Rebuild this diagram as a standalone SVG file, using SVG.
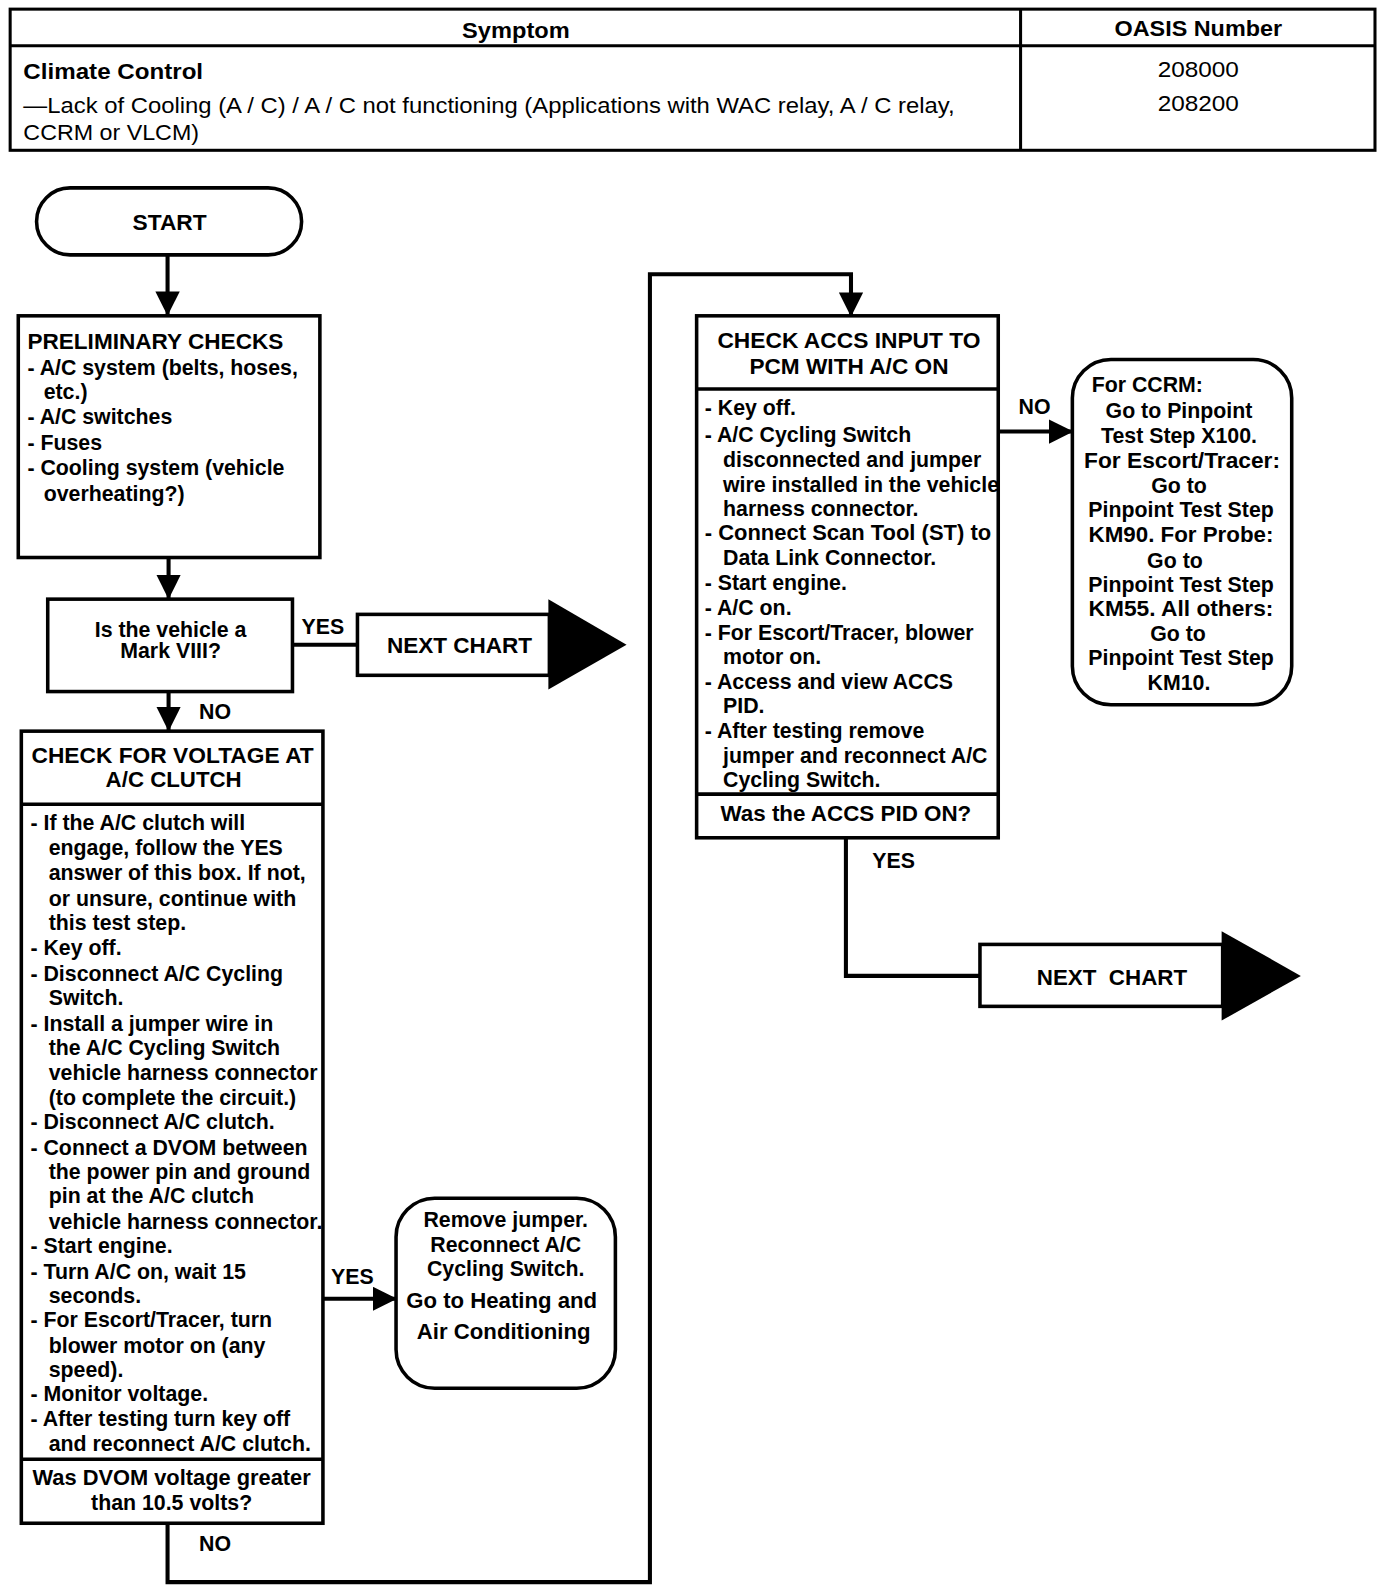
<svg xmlns="http://www.w3.org/2000/svg" width="1392" height="1592" viewBox="0 0 1392 1592">
<defs>
<style>
text{font-family:"Liberation Sans",Arial,sans-serif;font-weight:bold;font-size:21px;fill:#000}
.c{text-anchor:middle}
.box{fill:#fff;stroke:#000;stroke-width:3.5}
.ln{fill:none;stroke:#000;stroke-width:4}
.t{font-size:22px}
.r{font-weight:normal}
</style>
<marker id="ah" markerUnits="userSpaceOnUse" markerWidth="26" markerHeight="24" refX="24" refY="12" orient="auto">
<path d="M0,0 L24,12 L0,24 Z" fill="#000"/>
</marker>
</defs>
<rect width="1392" height="1592" fill="#fff"/>
<g transform="scale(1.0155)">

<g id="table">
<rect x="10" y="9" width="1344" height="139" fill="none" stroke="#000" stroke-width="3"/>
<line x1="10" y1="45" x2="1354" y2="45" stroke="#000" stroke-width="3"/>
<line x1="1005" y1="9" x2="1005" y2="148" stroke="#000" stroke-width="3"/>
<text class="c t" x="508" y="37" textLength="106" lengthAdjust="spacingAndGlyphs">Symptom</text>
<text class="c t" x="1180" y="35" textLength="165" lengthAdjust="spacingAndGlyphs">OASIS Number</text>
<text class="t" x="23" y="78" textLength="177" lengthAdjust="spacingAndGlyphs">Climate Control</text>
<text class="t r" x="23" y="111" textLength="917" lengthAdjust="spacingAndGlyphs">—Lack of Cooling (A / C) / A / C not functioning (Applications with WAC relay, A / C relay,</text>
<text class="t r" x="23" y="138" textLength="173" lengthAdjust="spacingAndGlyphs">CCRM or VLCM)</text>
<text class="c t r" x="1180" y="76" textLength="80" lengthAdjust="spacingAndGlyphs">208000</text>
<text class="c t r" x="1180" y="109" textLength="80" lengthAdjust="spacingAndGlyphs">208200</text>
</g>

<g id="connectors">
<line class="ln" x1="165" y1="251" x2="165" y2="311" marker-end="url(#ah)"/>
<line class="ln" x1="166" y1="549" x2="166" y2="590" marker-end="url(#ah)"/>
<line class="ln" x1="288" y1="635" x2="352" y2="635"/>
<line class="ln" x1="166" y1="681" x2="166" y2="720" marker-end="url(#ah)"/>
<line class="ln" x1="318" y1="1279" x2="391" y2="1279" marker-end="url(#ah)"/>
<polyline class="ln" points="165,1500 165,1558 640,1558 640,270 838,270 838,312" marker-end="url(#ah)"/>
<line class="ln" x1="983" y1="425" x2="1057" y2="425" marker-end="url(#ah)"/>
<polyline class="ln" points="833,825 833,961 965,961"/>
<text x="297" y="624">YES</text>
<text x="196" y="708">NO</text>
<text x="326" y="1264">YES</text>
<text x="196" y="1527">NO</text>
<text x="1003" y="408">NO</text>
<text x="859" y="855">YES</text>
</g>

<g id="start">
<rect class="box" x="36" y="185" width="261" height="66" rx="33"/>
<text class="c" x="167" y="226" textLength="73" lengthAdjust="spacingAndGlyphs">START</text>
</g>

<g id="prelim">
<rect class="box" x="18" y="311" width="297" height="238"/>
<text x="27" y="344" textLength="252" lengthAdjust="spacingAndGlyphs">PRELIMINARY CHECKS</text>
<text x="27" y="369">- A/C system (belts, hoses,</text>
<text x="43" y="393">etc.)</text>
<text x="27" y="418">- A/C switches</text>
<text x="27" y="443">- Fuses</text>
<text x="27" y="468">- Cooling system (vehicle</text>
<text x="43" y="493">overheating?)</text>
</g>

<g id="decision1">
<rect class="box" x="47" y="590" width="241" height="91"/>
<text class="c" x="168" y="627">Is the vehicle a</text>
<text class="c" x="168" y="648">Mark VIII?</text>
</g>

<g id="next1">
<rect class="box" x="352" y="605" width="189" height="60"/>
<path d="M540,590 L617,635 L540,679 Z" fill="#000"/>
<text x="381" y="643" textLength="143" lengthAdjust="spacingAndGlyphs">NEXT CHART</text>
</g>

<g id="voltage">
<rect class="box" x="21" y="720" width="297" height="780"/>
<line x1="21" y1="792" x2="318" y2="792" stroke="#000" stroke-width="3.5"/>
<line x1="21" y1="1437" x2="318" y2="1437" stroke="#000" stroke-width="3.5"/>
<text class="c" x="170" y="751" textLength="278" lengthAdjust="spacingAndGlyphs">CHECK FOR VOLTAGE AT</text>
<text class="c" x="171" y="775" textLength="134" lengthAdjust="spacingAndGlyphs">A/C CLUTCH</text>
<text x="30" y="817">- If the A/C clutch will</text>
<text x="48" y="842">engage, follow the YES</text>
<text x="48" y="867">answer of this box. If not,</text>
<text x="48" y="892">or unsure, continue with</text>
<text x="48" y="916">this test step.</text>
<text x="30" y="940">- Key off.</text>
<text x="30" y="966">- Disconnect A/C Cycling</text>
<text x="48" y="990">Switch.</text>
<text x="30" y="1015">- Install a jumper wire in</text>
<text x="48" y="1039">the A/C Cycling Switch</text>
<text x="48" y="1064">vehicle harness connector</text>
<text x="48" y="1088">(to complete the circuit.)</text>
<text x="30" y="1112">- Disconnect A/C clutch.</text>
<text x="30" y="1137">- Connect a DVOM between</text>
<text x="48" y="1161">the power pin and ground</text>
<text x="48" y="1185">pin at the A/C clutch</text>
<text x="48" y="1210">vehicle harness connector.</text>
<text x="30" y="1234">- Start engine.</text>
<text x="30" y="1259">- Turn A/C on, wait 15</text>
<text x="48" y="1283">seconds.</text>
<text x="30" y="1307">- For Escort/Tracer, turn</text>
<text x="48" y="1332">blower motor on (any</text>
<text x="48" y="1356">speed).</text>
<text x="30" y="1380">- Monitor voltage.</text>
<text x="30" y="1404">- After testing turn key off</text>
<text x="48" y="1429">and reconnect A/C clutch.</text>
<text class="c" x="169" y="1462" textLength="274" lengthAdjust="spacingAndGlyphs">Was DVOM voltage greater</text>
<text class="c" x="169" y="1487">than 10.5 volts?</text>
</g>

<g id="remove">
<rect class="box" x="390" y="1180" width="216" height="187" rx="38"/>
<text class="c" x="498" y="1208">Remove jumper.</text>
<text class="c" x="498" y="1233">Reconnect A/C</text>
<text class="c" x="498" y="1257">Cycling Switch.</text>
<text class="c" x="494" y="1288" textLength="188" lengthAdjust="spacingAndGlyphs">Go to Heating and</text>
<text class="c" x="496" y="1319" textLength="171" lengthAdjust="spacingAndGlyphs">Air Conditioning</text>
</g>

<g id="accs">
<rect class="box" x="686" y="311" width="297" height="514"/>
<line x1="686" y1="383" x2="983" y2="383" stroke="#000" stroke-width="3.5"/>
<line x1="686" y1="782" x2="983" y2="782" stroke="#000" stroke-width="3.5"/>
<text class="c" x="836" y="343" textLength="259" lengthAdjust="spacingAndGlyphs">CHECK ACCS INPUT TO</text>
<text class="c" x="836" y="368" textLength="196" lengthAdjust="spacingAndGlyphs">PCM WITH A/C ON</text>
<text x="694" y="409">- Key off.</text>
<text x="694" y="435">- A/C Cycling Switch</text>
<text x="712" y="460">disconnected and jumper</text>
<text x="712" y="484">wire installed in the vehicle</text>
<text x="712" y="508">harness connector.</text>
<text x="694" y="532" textLength="282" lengthAdjust="spacingAndGlyphs">- Connect Scan Tool (ST) to</text>
<text x="712" y="556">Data Link Connector.</text>
<text x="694" y="581">- Start engine.</text>
<text x="694" y="606">- A/C on.</text>
<text x="694" y="630">- For Escort/Tracer, blower</text>
<text x="712" y="654">motor on.</text>
<text x="694" y="678">- Access and view ACCS</text>
<text x="712" y="702">PID.</text>
<text x="694" y="727">- After testing remove</text>
<text x="712" y="751">jumper and reconnect A/C</text>
<text x="712" y="775">Cycling Switch.</text>
<text class="c" x="833" y="808" textLength="247" lengthAdjust="spacingAndGlyphs">Was the ACCS PID ON?</text>
</g>

<g id="ccrm">
<rect class="box" x="1056" y="354" width="216" height="340" rx="38"/>
<text x="1075" y="386">For CCRM:</text>
<text class="c" x="1161" y="412">Go to Pinpoint</text>
<text class="c" x="1161" y="436">Test Step X100.</text>
<text class="c" x="1164" y="461" textLength="193" lengthAdjust="spacingAndGlyphs">For Escort/Tracer:</text>
<text class="c" x="1161" y="485">Go to</text>
<text class="c" x="1163" y="509">Pinpoint Test Step</text>
<text class="c" x="1163" y="534" textLength="182" lengthAdjust="spacingAndGlyphs">KM90. For Probe:</text>
<text class="c" x="1157" y="559">Go to</text>
<text class="c" x="1163" y="583">Pinpoint Test Step</text>
<text class="c" x="1163" y="607" textLength="182" lengthAdjust="spacingAndGlyphs">KM55. All others:</text>
<text class="c" x="1160" y="631">Go to</text>
<text class="c" x="1163" y="655">Pinpoint Test Step</text>
<text class="c" x="1161" y="679">KM10.</text>
</g>

<g id="next2">
<rect class="box" x="965" y="930" width="239" height="61"/>
<path d="M1203,917 L1281,961 L1203,1005 Z" fill="#000"/>
<text x="1021" y="970" textLength="148" lengthAdjust="spacingAndGlyphs" xml:space="preserve">NEXT  CHART</text>
</g>
</g>
</svg>
